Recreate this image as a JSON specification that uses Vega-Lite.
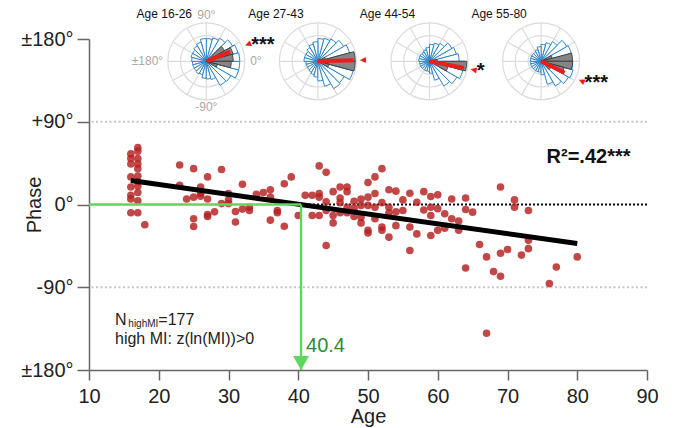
{
  "$schema": "https://vega.github.io/schema/vega-lite/v6.json",
  "width": 558,
  "height": 331,
  "autosize": {"type": "none"},
  "padding": {"left": 89, "top": 39, "right": 29, "bottom": 58},
  "background": "white",
  "config": {
    "view": {"stroke": null},
    "font": "Liberation Sans",
    "text": {"font": "Liberation Sans", "color": "#222"},
    "axis": {"labelFont": "Liberation Sans", "titleFont": "Liberation Sans", "grid": false}
  },
  "datasets": {
    "pts": [
      {"age":16,"phase":55},{"age":16,"phase":44},{"age":16,"phase":30},{"age":16,"phase":19},{"age":16,"phase":10},{"age":16,"phase":6},{"age":16,"phase":-9},{"age":16,"phase":50},
      {"age":17,"phase":62},{"age":17,"phase":58},{"age":17,"phase":50},{"age":17,"phase":44},{"age":17,"phase":39},{"age":17,"phase":31},{"age":17,"phase":25},{"age":17,"phase":13},{"age":17,"phase":4},{"age":17,"phase":-9},{"age":17,"phase":20},
      {"age":18,"phase":-22},
      {"age":23,"phase":43},{"age":23,"phase":21},{"age":25,"phase":39},{"age":24,"phase":6},{"age":25,"phase":8},{"age":26,"phase":19},{"age":26,"phase":9},{"age":27,"phase":30},{"age":27,"phase":6},{"age":25,"phase":-15.5},{"age":25,"phase":-24},{"age":27,"phase":-13},{"age":27,"phase":-11},{"age":28,"phase":-8},{"age":29,"phase":38},{"age":30,"phase":12},{"age":30,"phase":5},{"age":29,"phase":1},{"age":30,"phase":1},{"age":31,"phase":-7.6},{"age":31,"phase":-19},{"age":32,"phase":22},{"age":32,"phase":-5},{"age":33,"phase":-6.5},{"age":34,"phase":11},{"age":35,"phase":13},{"age":36,"phase":16},{"age":36,"phase":8},{"age":37,"phase":-6.5},{"age":37,"phase":-9},{"age":36,"phase":-17},{"age":38,"phase":22.5},{"age":38,"phase":-23.6},{"age":39,"phase":30},{"age":40,"phase":-12},{"age":41,"phase":10},{"age":42,"phase":10},{"age":42,"phase":-12},{"age":43,"phase":42},{"age":43,"phase":12},{"age":43,"phase":8},{"age":43,"phase":-12},{"age":44,"phase":35},{"age":44,"phase":-44.6},{"age":44,"phase":-6.5},{"age":45,"phase":14},{"age":45,"phase":-12},{"age":45,"phase":-20},{"age":46,"phase":19},{"age":46,"phase":7},{"age":46,"phase":-9},{"age":47,"phase":19},{"age":47,"phase":14},{"age":47,"phase":-9},{"age":48,"phase":3.6},{"age":48,"phase":-13},{"age":49,"phase":-1},{"age":49,"phase":-14},{"age":49,"phase":-20},{"age":50,"phase":24},{"age":50,"phase":-1},{"age":50,"phase":-28},{"age":50,"phase":-31},{"age":51,"phase":30},{"age":51,"phase":12},{"age":51,"phase":-3},
      {"age":52,"phase":39},{"age":54,"phase":14.5},{"age":56,"phase":12.3},{"age":58,"phase":14},{"age":59,"phase":8.7},{"age":60,"phase":10.5},{"age":62,"phase":6},{"age":64,"phase":7},{"age":69,"phase":19},{"age":71,"phase":5},{"age":71,"phase":-3},{"age":73,"phase":-6.5},{"age":53,"phase":-3},{"age":53,"phase":-9},{"age":55,"phase":-6.5},{"age":57,"phase":2.5},{"age":59,"phase":-3},{"age":59,"phase":-12},{"age":60,"phase":-4.5},{"age":61,"phase":-10},{"age":62,"phase":-15.5},{"age":63,"phase":-18},{"age":64,"phase":-5.4},{"age":65,"phase":-8.3},{"age":51,"phase":-15.5},{"age":52,"phase":-24.6},{"age":52,"phase":-28},{"age":53,"phase":-35.5},{"age":54,"phase":-23},{"age":56,"phase":-24.6},{"age":57,"phase":-32},{"age":59,"phase":-33.7},{"age":60,"phase":-28},{"age":61,"phase":-25.7},{"age":63,"phase":-28},{"age":56,"phase":-50},{"age":66,"phase":-43.5},{"age":67,"phase":-57},{"age":69,"phase":-53},{"age":70,"phase":-49},{"age":72,"phase":-55},{"age":73,"phase":-39},{"age":73,"phase":-48},{"age":80,"phase":-57},
      {"age":64,"phase":-69},{"age":68,"phase":-73},{"age":69,"phase":-78},{"age":76,"phase":-86},{"age":77,"phase":-68},{"age":67,"phase":-140},
      {"age":46,"phase":2},{"age":48,"phase":-4},{"age":52,"phase":2},{"age":54,"phase":-8},{"age":55,"phase":5},{"age":58,"phase":-6},{"age":47,"phase":-3},{"age":50,"phase":8},{"age":53,"phase":16},{"age":44,"phase":3},{"age":49,"phase":6},{"age":26,"phase":12},{"age":33,"phase":-3}
    ],
    "fit": [{"age":16,"phase":26},{"age":80,"phase":-42.5}],
    "ref": [{"v":90},{"v":-90}],
    "green": [{"x1":10,"x2":40.4,"y1":0,"y2":0},{"x1":40.4,"x2":40.4,"y1":0,"y2":-180}],
    "cross": [{"age":40.4}],
    "circ": [
      {"grp":"Age 16-26","r":[0.333,0.667,1]},{"grp":"Age 27-43","r":[0.333,0.667,1]},{"grp":"Age 44-54","r":[0.333,0.667,1]},{"grp":"Age 55-80","r":[0.333,0.667,1]}
    ],
    "spokes": [
      {"grp":"Age 16-26","a":[-180,-150,-120,-90,-60,-30,0,30,60,90,120,150]},
      {"grp":"Age 27-43","a":[-180,-150,-120,-90,-60,-30,0,30,60,90,120,150]},
      {"grp":"Age 44-54","a":[-180,-150,-120,-90,-60,-30,0,30,60,90,120,150]},
      {"grp":"Age 55-80","a":[-180,-150,-120,-90,-60,-30,0,30,60,90,120,150]}
    ],
    "rose": [
      {"grp":"Age 16-26","a":[-180,-165,-150,-135,-120,-105,-90,-75,-60,-45,-30,-15,0,15,30,45,60,75,90,105,120,135,150,165],"a2":[-165,-150,-135,-120,-105,-90,-75,-60,-45,-30,-15,0,15,30,45,60,75,90,105,120,135,150,165,180],"r":[0.36,0.36,0.36,0.38,0.36,0.44,0.46,0.49,0.72,0.74,0.87,0.87,0.87,0.85,0.79,0.69,0.63,0.59,0.59,0.51,0.46,0.41,0.41,0.38]},
      {"grp":"Age 27-43","a":[-180,-165,-150,-135,-120,-105,-90,-75,-60,-45,-30,-15,0,15,30,45,60,75,90,105,120,135,150,165],"a2":[-165,-150,-135,-120,-105,-90,-75,-60,-45,-30,-15,0,15,30,45,60,75,90,105,120,135,150,165,180],"r":[0.31,0.31,0.31,0.33,0.36,0.41,0.51,0.67,0.82,0.79,0.95,0.9,0.9,0.85,0.77,0.67,0.62,0.59,0.51,0.46,0.41,0.36,0.36,0.36]},
      {"grp":"Age 44-54","a":[-180,-165,-150,-135,-120,-105,-90,-75,-60,-45,-30,-15,0,15,30,45,60,75,90,105,120,135,150,165],"a2":[-165,-150,-135,-120,-105,-90,-75,-60,-45,-30,-15,0,15,30,45,60,75,90,105,120,135,150,165,180],"r":[0.26,0.26,0.26,0.26,0.26,0.26,0.31,0.51,0.74,0.82,0.9,0.92,0.77,0.72,0.67,0.54,0.49,0.44,0.36,0.31,0.28,0.28,0.28,0.28]},
      {"grp":"Age 55-80","a":[-180,-165,-150,-135,-120,-105,-90,-75,-60,-45,-30,-15,0,15,30,45,60,75,90,105,120,135,150,165],"a2":[-165,-150,-135,-120,-105,-90,-75,-60,-45,-30,-15,0,15,30,45,60,75,90,105,120,135,150,165,180],"r":[0.28,0.28,0.28,0.28,0.28,0.28,0.35,0.62,0.74,0.82,0.86,0.82,0.79,0.81,0.77,0.59,0.5,0.44,0.38,0.31,0.28,0.28,0.28,0.28]}
    ],
    "gray": [
      {"grp":"Age 16-26","a":[30,15,0,-15,-30],"a2":[45,30,15,0,-15],"r":[0.55,0.72,0.7,0.65,0.3]},
      {"grp":"Age 27-43","a":[15,0,-15,-30],"a2":[30,15,0,-15],"r":[0.2,0.97,0.97,0.3]},
      {"grp":"Age 44-54","a":[0,-15,-30],"a2":[15,0,-15],"r":[0.2,0.97,0.5]},
      {"grp":"Age 55-80","a":[15,0,-15,-30,-45],"a2":[30,15,0,-15,-30],"r":[0.3,0.82,0.82,0.62,0.3]}
    ],
    "mean": [
      {"grp":"Age 16-26","m":22,"len":0.67,"stars":"***"},
      {"grp":"Age 27-43","m":1.5,"len":0.92,"stars":""},
      {"grp":"Age 44-54","m":-11,"len":0.91,"stars":"*"},
      {"grp":"Age 55-80","m":-26,"len":0.68,"stars":"***"}
    ],
    "alab": [
      {"grp":"Age 16-26","ang":90,"t":"90°"},
      {"grp":"Age 16-26","ang":-90,"t":"-90°"},
      {"grp":"Age 16-26","ang":0,"t":"0°"},
      {"grp":"Age 16-26","ang":180,"t":"±180°"}
    ]
  },
  "layer": [
    {
      "layer": [
        {
          "data": {"name": "ref"},
          "mark": {"type": "rule", "color": "#c6c6c6", "strokeWidth": 2, "strokeDash": [2, 2.5]},
          "encoding": {"y": {"field": "v", "type": "quantitative", "scale": {"domain": [-180, 180], "nice": false, "zero": false}}}
        },
        {
          "data": {"name": "cross"},
          "mark": {"type": "rule", "color": "black", "strokeWidth": 2, "strokeDash": [2, 2]},
          "encoding": {
            "x": {"field": "age", "type": "quantitative", "scale": {"domain": [10, 90], "nice": false, "zero": false}},
            "x2": {"datum": 90},
            "y": {"datum": 0, "type": "quantitative", "scale": {"domain": [-180, 180], "nice": false, "zero": false}}
          }
        },
        {
          "data": {"name": "pts"},
          "mark": {"type": "circle", "size": 58, "color": "#b52020", "opacity": 0.82},
          "encoding": {
            "x": {"field": "age", "type": "quantitative", "scale": {"domain": [10, 90], "nice": false, "zero": false},
              "axis": {"title": "Age", "values": [10,20,30,40,50,60,70,80,90], "tickSize": 10, "labelPadding": 6, "labelFontSize": 20, "titleFontSize": 20, "titleFontWeight": "normal", "titlePadding": 0, "domainColor": "#666", "tickColor": "#666", "domainWidth": 1.5, "tickWidth": 1.5, "labelColor": "#222", "titleColor": "#222", "labelFlush": false, "labelOverlap": false}},
            "y": {"field": "phase", "type": "quantitative", "scale": {"domain": [-180, 180], "nice": false, "zero": false},
              "axis": {"title": "Phase", "values": [-180,-90,0,90,180], "labelExpr": "datum.value == 180 || datum.value == -180 ? '±180°' : datum.value == 90 ? '+90°' : datum.value + '°'", "tickSize": 12, "labelPadding": 4, "labelFontSize": 20, "titleFontSize": 20, "titleFontWeight": "normal", "titleX": -45, "titleY": 165.5, "domainColor": "#666", "tickColor": "#666", "domainWidth": 1.5, "tickWidth": 1.5, "labelColor": "#222", "titleColor": "#222", "labelOverlap": false, "labelFlush": false}}
          }
        },
        {
          "data": {"name": "fit"},
          "mark": {"type": "line", "color": "black", "strokeWidth": 5},
          "encoding": {
            "x": {"field": "age", "type": "quantitative", "scale": {"domain": [10, 90], "nice": false, "zero": false}},
            "y": {"field": "phase", "type": "quantitative", "scale": {"domain": [-180, 180], "nice": false, "zero": false}}
          }
        },
        {
          "data": {"name": "green"},
          "mark": {"type": "rule", "color": "#5fd65f", "strokeWidth": 2.4, "opacity": 1},
          "encoding": {
            "x": {"field": "x1", "type": "quantitative", "scale": {"domain": [10, 90], "nice": false, "zero": false}},
            "x2": {"field": "x2"},
            "y": {"field": "y1", "type": "quantitative", "scale": {"domain": [-180, 180], "nice": false, "zero": false}},
            "y2": {"field": "y2"}
          }
        },
        {
          "data": {"name": "cross"},
          "mark": {"type": "point", "shape": "triangle-down", "size": 256, "filled": true, "color": "#5fd65f", "opacity": 1, "yOffset": -7},
          "encoding": {
            "x": {"field": "age", "type": "quantitative", "scale": {"domain": [10, 90], "nice": false, "zero": false}},
            "y": {"datum": -180, "type": "quantitative", "scale": {"domain": [-180, 180], "nice": false, "zero": false}}
          }
        },
        {
          "data": {"name": "cross"},
          "mark": {"type": "text", "color": "#2e8b2e", "fontSize": 20, "align": "left", "baseline": "alphabetic", "dx": 5},
          "encoding": {
            "x": {"field": "age", "type": "quantitative", "scale": {"domain": [10, 90], "nice": false, "zero": false}},
            "y": {"datum": -160, "type": "quantitative", "scale": {"domain": [-180, 180], "nice": false, "zero": false}},
            "text": {"field": "age", "type": "quantitative", "format": ".1f"}
          }
        },
        {
          "data": {"values": [{}]},
          "mark": {"type": "text", "fontSize": 20, "fontWeight": "bold", "align": "left", "baseline": "alphabetic", "color": "#111"},
          "encoding": {
            "x": {"datum": 75.6, "type": "quantitative", "scale": {"domain": [10, 90], "nice": false, "zero": false}},
            "y": {"datum": 45.6, "type": "quantitative", "scale": {"domain": [-180, 180], "nice": false, "zero": false}},
            "text": {"value": "R²=.42***"}
          }
        },
        {
          "data": {"values": [{}]},
          "mark": {"type": "text", "fontSize": 16, "align": "left", "baseline": "alphabetic"},
          "encoding": {
            "x": {"datum": 13.73, "type": "quantitative", "scale": {"domain": [10, 90], "nice": false, "zero": false}},
            "y": {"datum": -131.5, "type": "quantitative", "scale": {"domain": [-180, 180], "nice": false, "zero": false}},
            "text": {"value": "N"}
          }
        },
        {
          "data": {"values": [{}]},
          "mark": {"type": "text", "fontSize": 10, "align": "left", "baseline": "alphabetic", "dx": 13.3, "dy": 2},
          "encoding": {
            "x": {"datum": 13.73, "type": "quantitative", "scale": {"domain": [10, 90], "nice": false, "zero": false}},
            "y": {"datum": -131.5, "type": "quantitative", "scale": {"domain": [-180, 180], "nice": false, "zero": false}},
            "text": {"value": "highMI"}
          }
        },
        {
          "data": {"values": [{}]},
          "mark": {"type": "text", "fontSize": 16, "align": "left", "baseline": "alphabetic", "dx": 43.3},
          "encoding": {
            "x": {"datum": 13.73, "type": "quantitative", "scale": {"domain": [10, 90], "nice": false, "zero": false}},
            "y": {"datum": -131.5, "type": "quantitative", "scale": {"domain": [-180, 180], "nice": false, "zero": false}},
            "text": {"value": "=177"}
          }
        },
        {
          "data": {"values": [{}]},
          "mark": {"type": "text", "fontSize": 16, "align": "left", "baseline": "alphabetic"},
          "encoding": {
            "x": {"datum": 13.73, "type": "quantitative", "scale": {"domain": [10, 90], "nice": false, "zero": false}},
            "y": {"datum": -151.5, "type": "quantitative", "scale": {"domain": [-180, 180], "nice": false, "zero": false}},
            "text": {"value": "high MI: z(ln(MI))>0"}
          }
        }
      ]
    },
    {
      "layer": [
        {
          "data": {"name": "circ"},
          "transform": [{"flatten": ["r"]}],
          "mark": {"type": "arc", "theta": 0, "theta2": 6.2832, "filled": false, "stroke": "#dcdcdc", "strokeWidth": 1.2},
          "encoding": {
            "x": {"field": "grp", "type": "nominal", "scale": {"type": "point", "domain": ["Age 16-26","Age 27-43","Age 44-54","Age 55-80"], "padding": 1.11, "align": 0.5255}, "axis": null},
            "y": {"datum": 155.75, "type": "quantitative", "scale": {"domain": [-180, 180], "nice": false, "zero": false}},
            "radius": {"field": "r", "type": "quantitative", "stack": null, "scale": {"type": "linear", "domain": [0, 1], "range": [0, 38.5]}}
          }
        },
        {
          "data": {"name": "spokes"},
          "transform": [{"flatten": ["a"]}],
          "mark": {"type": "arc", "filled": false, "stroke": "#dcdcdc", "strokeWidth": 1.2, "strokeJoin": "bevel"},
          "encoding": {
            "x": {"field": "grp", "type": "nominal", "scale": {"type": "point", "domain": ["Age 16-26","Age 27-43","Age 44-54","Age 55-80"], "padding": 1.11, "align": 0.5255}, "axis": null},
            "y": {"datum": 155.75, "type": "quantitative", "scale": {"domain": [-180, 180], "nice": false, "zero": false}},
            "theta": {"field": "a", "type": "quantitative", "stack": null, "scale": {"domain": [-180, 180], "range": [4.71238898, -1.57079633]}},
            "theta2": {"field": "a"},
            "radius": {"datum": 1, "type": "quantitative", "stack": null, "scale": {"type": "linear", "domain": [0, 1], "range": [0, 38.5]}}
          }
        },
        {
          "data": {"name": "rose"},
          "transform": [{"flatten": ["a", "a2", "r"]}],
          "mark": {"type": "arc", "fill": "white", "stroke": "#2f86c8", "strokeWidth": 1},
          "encoding": {
            "x": {"field": "grp", "type": "nominal", "scale": {"type": "point", "domain": ["Age 16-26","Age 27-43","Age 44-54","Age 55-80"], "padding": 1.11, "align": 0.5255}, "axis": null},
            "y": {"datum": 155.75, "type": "quantitative", "scale": {"domain": [-180, 180], "nice": false, "zero": false}},
            "theta": {"field": "a", "type": "quantitative", "stack": null, "scale": {"domain": [-180, 180], "range": [4.71238898, -1.57079633]}},
            "theta2": {"field": "a2"},
            "radius": {"field": "r", "type": "quantitative", "stack": null, "scale": {"type": "linear", "domain": [0, 1], "range": [0, 38.5]}}
          }
        },
        {
          "data": {"name": "gray"},
          "transform": [{"flatten": ["a", "a2", "r"]}],
          "mark": {"type": "arc", "fill": "#858585", "stroke": "#333", "strokeWidth": 0.8},
          "encoding": {
            "x": {"field": "grp", "type": "nominal", "scale": {"type": "point", "domain": ["Age 16-26","Age 27-43","Age 44-54","Age 55-80"], "padding": 1.11, "align": 0.5255}, "axis": null},
            "y": {"datum": 155.75, "type": "quantitative", "scale": {"domain": [-180, 180], "nice": false, "zero": false}},
            "theta": {"field": "a", "type": "quantitative", "stack": null, "scale": {"domain": [-180, 180], "range": [4.71238898, -1.57079633]}},
            "theta2": {"field": "a2"},
            "radius": {"field": "r", "type": "quantitative", "stack": null, "scale": {"type": "linear", "domain": [0, 1], "range": [0, 38.5]}}
          }
        },
        {
          "data": {"name": "mean"},
          "mark": {"type": "arc", "filled": false, "stroke": "#ee1c1c", "strokeWidth": 4, "strokeJoin": "bevel", "strokeCap": "butt"},
          "encoding": {
            "x": {"field": "grp", "type": "nominal", "scale": {"type": "point", "domain": ["Age 16-26","Age 27-43","Age 44-54","Age 55-80"], "padding": 1.11, "align": 0.5255}, "axis": null},
            "y": {"datum": 155.75, "type": "quantitative", "scale": {"domain": [-180, 180], "nice": false, "zero": false}},
            "theta": {"field": "m", "type": "quantitative", "stack": null, "scale": {"domain": [-180, 180], "range": [4.71238898, -1.57079633]}},
            "theta2": {"field": "m"},
            "radius": {"field": "len", "type": "quantitative", "stack": null, "scale": {"type": "linear", "domain": [0, 1], "range": [0, 38.5]}}
          }
        },
        {
          "data": {"name": "mean"},
          "mark": {"type": "text", "text": "◀", "font": "DejaVu Sans", "fontSize": 8, "color": "#ee1c1c", "align": "center", "baseline": "middle"},
          "encoding": {
            "x": {"field": "grp", "type": "nominal", "scale": {"type": "point", "domain": ["Age 16-26","Age 27-43","Age 44-54","Age 55-80"], "padding": 1.11, "align": 0.5255}, "axis": null},
            "y": {"datum": 155.75, "type": "quantitative", "scale": {"domain": [-180, 180], "nice": false, "zero": false}},
            "theta": {"field": "m", "type": "quantitative", "stack": null, "scale": {"domain": [-180, 180], "range": [4.71238898, -1.57079633]}},
            "radius": {"datum": 1.17, "type": "quantitative", "stack": null, "scale": {"type": "linear", "domain": [0, 1], "range": [0, 38.5]}},
            "angle": {"field": "m", "type": "quantitative", "scale": {"domain": [-180, 180], "range": [180, -180]}}
          }
        },
        {
          "data": {"name": "mean"},
          "mark": {"type": "text", "fontSize": 20, "fontWeight": "bold", "color": "#111", "align": "left", "baseline": "middle", "dx": 2, "dy": 1},
          "encoding": {
            "x": {"field": "grp", "type": "nominal", "scale": {"type": "point", "domain": ["Age 16-26","Age 27-43","Age 44-54","Age 55-80"], "padding": 1.11, "align": 0.5255}, "axis": null},
            "y": {"datum": 155.75, "type": "quantitative", "scale": {"domain": [-180, 180], "nice": false, "zero": false}},
            "theta": {"field": "m", "type": "quantitative", "stack": null, "scale": {"domain": [-180, 180], "range": [4.71238898, -1.57079633]}},
            "radius": {"datum": 1.2, "type": "quantitative", "stack": null, "scale": {"type": "linear", "domain": [0, 1], "range": [0, 38.5]}},
            "text": {"field": "stars", "type": "nominal"}
          }
        },
        {
          "data": {"name": "mean"},
          "mark": {"type": "text", "fontSize": 12, "align": "center", "baseline": "alphabetic", "dx": -42, "color": "#111"},
          "encoding": {
            "x": {"field": "grp", "type": "nominal", "scale": {"type": "point", "domain": ["Age 16-26","Age 27-43","Age 44-54","Age 55-80"], "padding": 1.11, "align": 0.5255}, "axis": null},
            "y": {"datum": 202.5, "type": "quantitative", "scale": {"domain": [-180, 180], "nice": false, "zero": false}},
            "text": {"field": "grp", "type": "nominal"}
          }
        },
        {
          "data": {"name": "alab"},
          "transform": [{"filter": "datum.ang == 90 || datum.ang == -90"}],
          "mark": {"type": "text", "fontSize": 12, "align": "center", "baseline": "middle", "color": "#a8a8a8"},
          "encoding": {
            "x": {"field": "grp", "type": "nominal", "scale": {"type": "point", "domain": ["Age 16-26","Age 27-43","Age 44-54","Age 55-80"], "padding": 1.11, "align": 0.5255}, "axis": null},
            "y": {"datum": 155.75, "type": "quantitative", "scale": {"domain": [-180, 180], "nice": false, "zero": false}},
            "theta": {"field": "ang", "type": "quantitative", "stack": null, "scale": {"domain": [-180, 180], "range": [4.71238898, -1.57079633]}},
            "radius": {"datum": 1.2, "type": "quantitative", "stack": null, "scale": {"type": "linear", "domain": [0, 1], "range": [0, 38.5]}},
            "text": {"field": "t", "type": "nominal"}
          }
        },
        {
          "data": {"name": "alab"},
          "transform": [{"filter": "datum.ang == 0"}],
          "mark": {"type": "text", "fontSize": 12, "align": "left", "baseline": "middle", "color": "#a8a8a8"},
          "encoding": {
            "x": {"field": "grp", "type": "nominal", "scale": {"type": "point", "domain": ["Age 16-26","Age 27-43","Age 44-54","Age 55-80"], "padding": 1.11, "align": 0.5255}, "axis": null},
            "y": {"datum": 155.75, "type": "quantitative", "scale": {"domain": [-180, 180], "nice": false, "zero": false}},
            "theta": {"field": "ang", "type": "quantitative", "stack": null, "scale": {"domain": [-180, 180], "range": [4.71238898, -1.57079633]}},
            "radius": {"datum": 1.14, "type": "quantitative", "stack": null, "scale": {"type": "linear", "domain": [0, 1], "range": [0, 38.5]}},
            "text": {"field": "t", "type": "nominal"}
          }
        },
        {
          "data": {"name": "alab"},
          "transform": [{"filter": "datum.ang == 180"}],
          "mark": {"type": "text", "fontSize": 12, "align": "right", "baseline": "middle", "color": "#a8a8a8"},
          "encoding": {
            "x": {"field": "grp", "type": "nominal", "scale": {"type": "point", "domain": ["Age 16-26","Age 27-43","Age 44-54","Age 55-80"], "padding": 1.11, "align": 0.5255}, "axis": null},
            "y": {"datum": 155.75, "type": "quantitative", "scale": {"domain": [-180, 180], "nice": false, "zero": false}},
            "theta": {"field": "ang", "type": "quantitative", "stack": null, "scale": {"domain": [-180, 180], "range": [4.71238898, -1.57079633]}},
            "radius": {"datum": 1.12, "type": "quantitative", "stack": null, "scale": {"type": "linear", "domain": [0, 1], "range": [0, 38.5]}},
            "text": {"field": "t", "type": "nominal"}
          }
        }
      ]
    }
  ],
  "resolve": {"scale": {"x": "independent"}}
}
